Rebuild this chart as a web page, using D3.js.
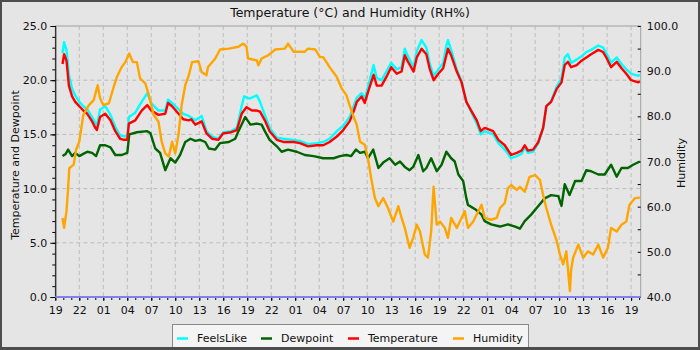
<!DOCTYPE html>
<html><head><meta charset="utf-8">
<script src="https://cdn.jsdelivr.net/npm/d3@7"></script>
<style>body{margin:0;background:#e5e5e5;} svg{display:block;font-family:"DejaVu Sans",sans-serif;}</style>
</head><body><svg id="c" width="700" height="350"></svg>
<script>
// hours after 19:00 on the first day
const tempHours=[0.9,1.1,1.4,1.7,2.1,2.5,3.0,3.5,4.0,4.6,5.0,5.2,5.4,5.6,6.25,6.9,7.5,8.1,8.6,9.0,9.2,10.0,10.8,11.5,12.0,12.9,13.75,14.1,14.6,15.3,16.0,16.7,17.0,17.5,18.3,18.9,19.6,20.4,21.0,22.0,22.7,23.3,23.9,24.6,25.2,25.6,26.2,26.8,27.7,28.5,29.8,30.6,31.6,32.7,33.5,34.3,35.2,36.0,36.8,37.3,37.7,38.3,38.7,39.1,39.8,40.2,40.8,41.4,42.0,42.7,43.3,43.7,44.1,44.8,45.2,45.8,46.4,46.8,47.3,47.9,48.5,49.1,49.5,50.2,50.8,51.4,52.0,52.7,53.2,53.7,54.75,55.4,56.2,57.0,57.7,58.3,58.7,59.1,59.75,60.4,61.0,61.4,62.0,62.7,63.3,63.7,64.1,64.5,65.2,65.8,66.4,67.0,67.9,68.5,68.9,69.5,70.2,70.8,71.4,72.0,72.9,73.1];
const tempValues=[21.5,22.4,21.8,19.5,18.5,18.0,17.6,17.2,16.9,16.2,15.6,15.4,16.0,16.6,16.9,16.3,15.3,14.6,14.5,14.5,16.0,16.3,17.2,17.7,17.2,16.8,16.9,17.9,17.6,17.0,16.4,16.3,16.4,15.9,16.2,15.1,14.6,14.5,15.1,15.2,15.4,16.9,17.5,17.2,17.2,17.1,16.3,15.3,14.5,14.3,14.3,14.2,13.9,14.0,14.0,14.3,14.8,15.4,16.2,17.1,18.0,18.5,17.9,18.9,20.5,19.5,19.5,20.3,21.2,20.6,20.8,22.3,21.7,20.8,22.1,22.9,22.4,21.1,20.0,20.6,21.1,22.9,22.3,20.8,19.8,18.0,17.2,16.3,15.3,15.6,15.3,14.5,14.0,13.1,13.3,13.5,14.0,13.5,13.6,14.3,15.6,17.6,18.0,19.2,19.8,21.4,21.7,21.2,21.4,21.8,22.1,22.4,22.8,22.6,22.1,21.2,21.7,21.1,20.6,20.0,19.8,19.9];

const feelsHours=[0.9,1.1,1.4,1.7,2.1,2.5,3.0,3.5,4.0,4.6,5.2,5.6,6.25,6.9,7.5,8.1,9.0,9.2,10.0,10.8,11.5,12.0,12.9,13.75,14.1,14.6,15.3,16.0,16.7,17.5,18.3,18.9,19.6,20.4,21.0,22.0,22.7,23.3,23.6,24.3,25.2,25.6,26.2,26.8,27.7,28.5,29.8,30.6,31.6,32.7,33.5,34.3,35.2,36.0,36.8,37.3,37.7,38.3,38.7,39.1,39.8,40.2,40.8,41.4,42.0,42.7,43.3,43.7,44.1,44.8,45.2,45.8,46.4,46.8,47.3,47.9,48.5,48.9,49.1,49.5,50.2,50.8,51.4,52.0,52.7,53.2,53.7,54.75,55.4,56.2,57.0,57.7,58.3,58.7,59.1,59.75,60.4,61.0,61.4,62.0,62.7,63.3,63.7,64.1,64.5,65.2,65.8,66.4,67.0,67.9,68.5,68.9,69.5,70.2,70.8,71.4,72.0,72.9,73.1];
const feelsValues=[22.5,23.5,22.8,20.5,19.2,18.6,18.0,17.6,17.3,16.6,15.8,17.3,17.6,16.8,15.7,14.9,14.8,16.6,17.0,18.0,18.8,17.9,17.2,17.2,18.2,17.9,17.4,16.9,16.7,16.3,16.7,15.3,14.8,14.6,15.2,15.3,15.6,17.6,18.5,18.3,18.6,18.0,16.8,15.6,14.7,14.6,14.5,14.4,14.1,14.2,14.3,14.6,15.3,15.8,16.6,17.6,18.4,18.8,18.3,19.4,21.4,20.2,20.0,20.8,21.6,21.0,21.2,22.9,22.2,21.2,22.7,23.7,23.0,21.6,20.4,21.0,21.6,23.2,23.7,22.8,21.0,19.9,18.0,17.1,16.0,15.0,15.3,15.0,14.2,13.6,12.8,13.0,13.2,13.8,13.3,13.4,14.2,15.6,17.6,18.1,19.4,20.2,22.1,22.4,21.6,21.9,22.2,22.6,22.8,23.2,23.0,22.5,21.6,22.1,21.5,21.0,20.6,20.4,20.5];

const dewHours=[0.9,1.3,1.6,2.1,2.5,3.0,3.5,4.0,4.6,5.1,5.6,6.25,6.9,7.5,8.3,9.0,9.25,10.2,11.5,11.9,12.5,13.1,13.75,14.4,15.0,15.6,16.25,16.9,17.5,18.1,18.75,19.2,20.0,20.6,21.7,22.5,22.9,23.75,24.4,25.2,25.8,26.2,26.8,27.7,28.3,29.1,30.2,31.2,32.3,33.5,34.8,35.6,36.4,37.0,37.6,38.1,38.7,39.1,39.75,40.4,41.0,41.8,42.5,43.1,43.7,44.3,44.75,45.4,46.0,46.4,47.0,47.7,48.3,48.9,49.5,49.95,50.4,51.0,51.4,51.6,52.5,53.3,53.7,54.5,55.6,56.6,57.5,58.1,58.7,59.5,60.4,61.2,62.0,62.9,63.3,63.7,64.3,65.0,65.8,66.4,67.0,67.9,68.7,69.5,70.2,70.8,71.6,72.25,73.1];
const dewValues=[13.0,13.2,13.6,13.0,13.3,13.0,13.2,13.4,13.3,13.0,14.0,14.0,13.8,13.1,13.1,13.3,15.0,15.2,15.3,15.1,13.7,13.3,11.7,12.8,12.4,13.1,14.3,14.6,14.4,14.5,14.3,13.7,13.6,14.2,14.3,14.6,15.3,16.6,15.9,16.0,15.9,15.3,14.5,13.9,13.4,13.6,13.4,13.1,13.0,12.8,12.8,13.0,13.1,13.0,13.6,13.3,13.4,12.8,13.6,11.9,12.4,12.8,12.2,12.5,12.0,11.7,12.0,13.1,11.6,11.9,12.8,11.6,12.2,13.4,12.8,12.5,11.3,10.7,9.1,8.5,8.1,7.6,7.0,6.7,6.5,6.7,6.5,6.3,7.0,7.6,8.4,9.1,9.4,9.3,8.4,10.4,9.4,10.7,10.7,11.7,11.6,11.3,11.3,12.2,11.1,11.9,11.9,12.2,12.5];

const humHours=[0.9,1.1,1.4,1.6,1.75,2.3,2.6,3.0,3.5,4.2,4.8,5.3,5.6,6.0,6.7,7.3,7.7,8.3,8.75,9.25,9.7,10.2,10.6,11.25,11.7,12.3,12.9,13.3,13.75,14.2,14.6,15.0,15.4,15.8,16.25,16.7,17.1,17.9,18.3,18.9,19.1,20.0,20.6,21.7,22.9,23.5,23.9,24.1,25.2,25.4,25.8,26.6,27.5,28.7,29.1,29.8,31.2,31.6,32.5,33.1,33.5,34.3,35.2,35.8,36.4,36.8,37.3,37.7,38.1,38.7,39.1,39.5,39.96,40.4,41.0,41.6,42.25,42.9,43.3,43.7,44.3,44.75,45.2,45.6,46.2,46.6,47.0,47.3,47.7,48.1,48.7,49.1,49.5,50.2,50.8,51.2,51.6,52.25,52.9,53.3,53.7,54.5,55.2,55.6,56.2,56.6,57.0,57.7,58.1,58.7,59.3,60.0,60.6,61.0,61.4,62.0,62.7,63.1,63.5,63.9,64.2,64.35,64.5,64.75,65.4,66.0,66.6,67.25,67.9,68.5,69.1,69.5,70.2,70.8,71.4,71.8,72.5,73.1];
const humValues=[57.5,55.3,59.0,64.0,68.5,69.3,72.6,74.4,80.3,82.5,83.6,86.9,84.0,82.5,82.9,86.5,88.7,90.9,92.0,93.9,92.0,92.0,88.4,87.3,84.7,80.3,78.8,74.4,71.8,71.1,74.4,71.8,75.9,82.5,86.9,89.1,92.0,92.2,89.8,89.1,90.9,92.8,94.8,95.0,95.4,96.1,95.5,92.8,92.4,91.3,92.8,93.5,94.8,95.0,96.1,94.3,94.3,95.0,94.8,93.1,93.1,90.9,88.7,86.2,84.7,82.5,79.9,78.1,74.4,73.7,70.7,66.3,61.9,60.1,61.9,59.7,56.7,60.1,57.5,55.3,50.9,53.1,56.0,54.5,49.4,48.7,54.5,64.4,56.0,56.7,55.3,53.1,57.5,55.3,57.5,59.0,55.3,56.7,59.0,60.4,57.5,57.1,57.5,59.7,60.8,64.1,64.8,63.7,64.4,63.3,66.6,67.0,65.9,62.6,59.7,56.0,52.4,49.4,47.2,50.1,44.3,41.3,46.0,48.7,51.6,48.7,50.1,49.4,51.6,48.7,50.9,55.3,54.5,56.0,56.7,60.4,61.9,62.0];

const leftTicks=[0,5,10,15,20,25];
const rightTicks=[40,50,60,70,80,90,100];
const seriesNames=["FeelsLike","Dewpoint","Temperature","Humidity"];
const seriesColors=["#00ffff","#006400","#ff0000","#ffa500"];

const svg=d3.select("#c");
const L=55.3,R=640.7,T=26,B=297;
const base=new Date(2024,0,1,19,0,0);
const toDate=h=>new Date(base.getTime()+h*3600e3);
const x=d3.scaleTime().domain([base,toDate(73.2)]).range([L,R]);
const y=d3.scaleLinear().domain([0,25]).range([B,T]);
const y2=d3.scaleLinear().domain([40,100]).range([B,T]);

svg.append("rect").attr("width",700).attr("height",350).attr("fill","#e5e5e5");

// grid
const g=svg.append("g");
const vt=d3.range(0,73,3).map(toDate);
const minorT=d3.range(0,74,1).map(toDate);
g.selectAll("line.v").data(vt.filter(d=>x(d)>L+1)).join("line")
 .attr("x1",d=>x(d)).attr("x2",d=>x(d)).attr("y1",T).attr("y2",B)
 .attr("stroke","#bcbcbc").attr("stroke-dasharray","4,3");
g.selectAll("line.h").data([5,10,15,20]).join("line")
 .attr("x1",L).attr("x2",R).attr("y1",d=>y(d)).attr("y2",d=>y(d))
 .attr("stroke","#bcbcbc").attr("stroke-dasharray","4,3");

// frame
svg.append("rect").attr("x",L).attr("y",T).attr("width",R-L).attr("height",B-T)
 .attr("fill","none").attr("stroke","#a0a0a0");

const fmt=d3.format(".1f");
const styleText=s=>s.selectAll("text").attr("font-size",11).attr("fill","#111").attr("font-family","DejaVu Sans");
// left
const la=svg.append("g").attr("transform",`translate(${L},0)`)
 .call(d3.axisLeft(y).tickValues(d3.range(0,26,1)).tickSize(3).tickFormat(""));
la.select(".domain").attr("stroke","#000");
svg.append("g").attr("transform",`translate(${L},0)`)
 .call(d3.axisLeft(y).tickValues(leftTicks).tickSize(5).tickPadding(3).tickFormat(fmt))
 .call(s=>{s.select(".domain").remove();styleText(s);});
// right
const ra=svg.append("g").attr("transform",`translate(${R},0)`)
 .call(d3.axisLeft(y2).tickValues(d3.range(40,101,5)).tickSize(3).tickFormat(""));
ra.select(".domain").remove();
svg.append("g").attr("transform",`translate(${R},0)`)
 .call(d3.axisRight(y2).tickValues(rightTicks).tickSize(0).tickPadding(6).tickFormat(fmt))
 .call(s=>{s.select(".domain").remove();styleText(s);});
// bottom
svg.append("g").attr("transform",`translate(0,${B})`)
 .call(d3.axisBottom(x).tickValues(minorT.filter(d=>x(d)<=R)).tickSize(3).tickFormat(""))
 .call(s=>s.select(".domain").remove());
svg.append("g").attr("transform",`translate(0,${B})`)
 .call(d3.axisBottom(x).tickValues(vt).tickSize(4).tickPadding(5).tickFormat(d3.timeFormat("%H")))
 .call(s=>{s.select(".domain").remove();styleText(s);});

// zero baseline
svg.append("line").attr("x1",L).attr("x2",R).attr("y1",y(0)).attr("y2",y(0))
 .attr("stroke","#8080f0").attr("stroke-width",2);

// series
svg.append("clipPath").attr("id","pc").append("rect").attr("x",L).attr("y",T-2).attr("width",R-L).attr("height",B-T+2);
const mk=(hs,vs,sc)=>d3.line().x((d,i)=>x(toDate(hs[i]))).y((d,i)=>sc(vs[i])).curve(d3.curveLinear)(vs);
const series=[[feelsHours,feelsValues,y],[dewHours,dewValues,y],[tempHours,tempValues,y],[humHours,humValues,y2]];
const pg=svg.append("g").attr("clip-path","url(#pc)");
series.forEach((s,i)=>{
 pg.append("path").attr("d",mk(s[0],s[1],s[2])).attr("fill","none")
  .attr("stroke",seriesColors[i]).attr("stroke-width",2.4).attr("stroke-linejoin","round");
});

// title & labels
svg.append("text").attr("x",350).attr("y",17).attr("text-anchor","middle").attr("font-size",12.5).attr("fill","#111")
 .text("Temperature (°C) and Humidity (RH%)");
svg.append("text").attr("transform","translate(19,165) rotate(-90)").attr("text-anchor","middle").attr("font-size",11).attr("fill","#111")
 .text("Temperature and Dewpoint");
svg.append("text").attr("transform","translate(685,163) rotate(-90)").attr("text-anchor","middle").attr("font-size",11).attr("fill","#111")
 .text("Humidity");

// legend
svg.append("rect").attr("x",172.5).attr("y",324.5).attr("width",356).attr("height",30).attr("fill","#f4f4f4").attr("stroke","#8a8a8a");
const lx=[177,261,348,453];
seriesNames.forEach((n,i)=>{
 svg.append("line").attr("x1",lx[i]).attr("x2",lx[i]+11).attr("y1",338.5).attr("y2",338.5).attr("stroke",seriesColors[i]).attr("stroke-width",2.5);
 svg.append("text").attr("x",lx[i]+20).attr("y",342).attr("font-size",11).attr("fill","#111").text(n);
});

// outer border
svg.append("rect").attr("x",1).attr("y",1).attr("width",698).attr("height",347).attr("fill","none").attr("stroke","#4d4d4d").attr("stroke-width",2);
svg.append("rect").attr("x",0).attr("y",347).attr("width",700).attr("height",3).attr("fill","#4d4d4d");
</script></body></html>
